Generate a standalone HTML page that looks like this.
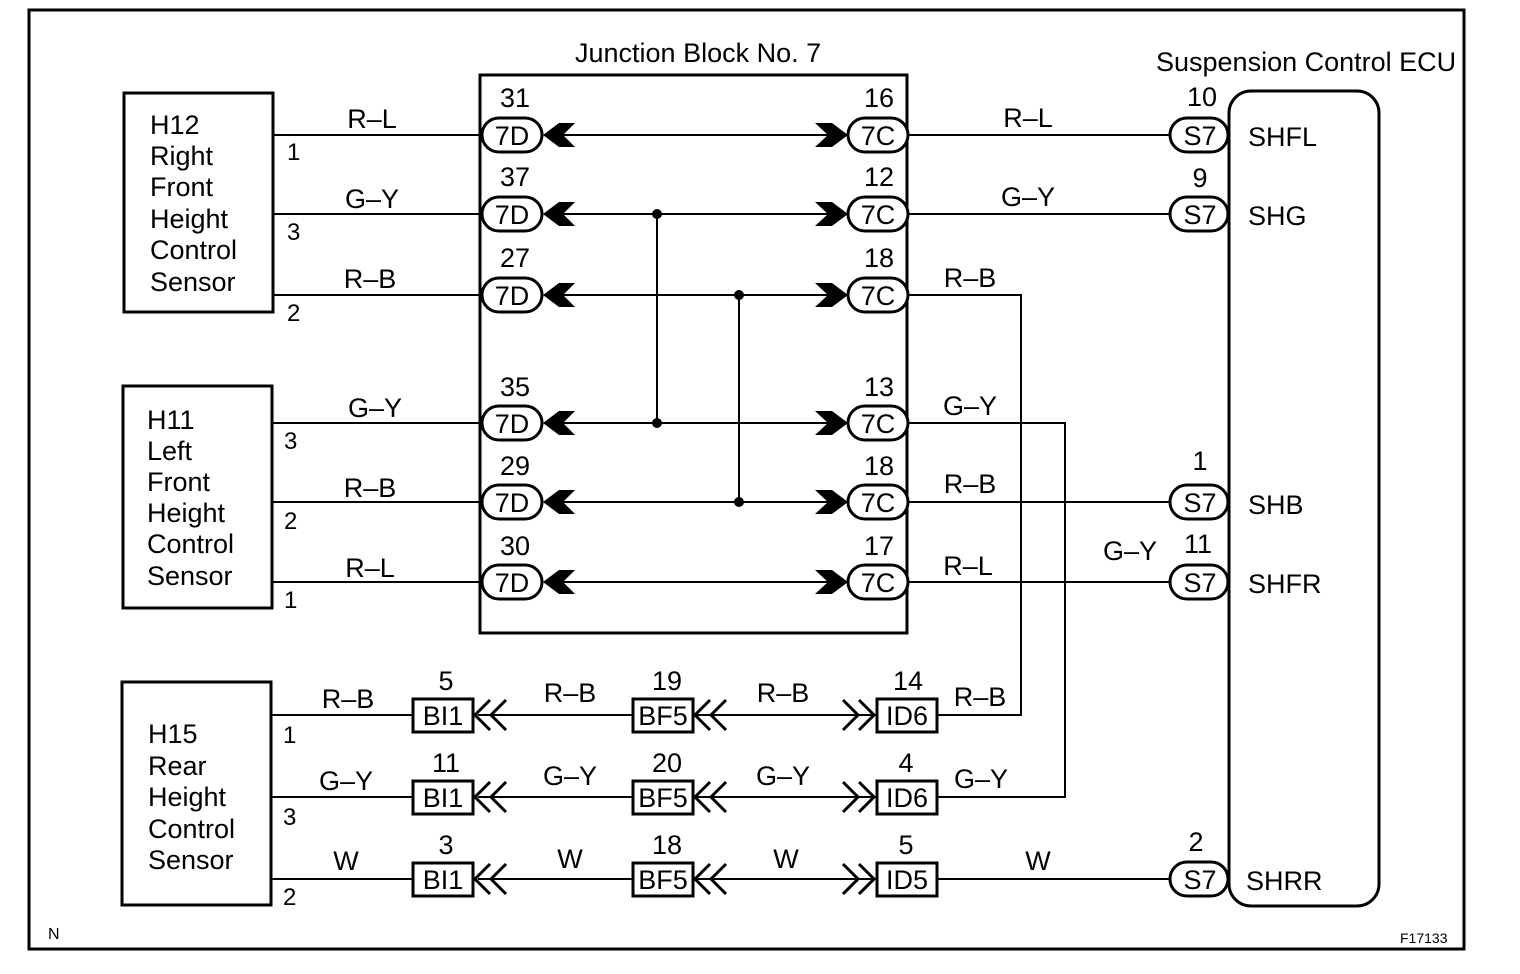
<!DOCTYPE html>
<html><head><meta charset="utf-8"><style>
html,body{margin:0;padding:0;background:#fff;}
svg{display:block;}
text{font-family:"Liberation Sans",Arial,sans-serif;fill:#000;}
</style></head><body>
<svg width="1520" height="974" viewBox="0 0 1520 974" xmlns="http://www.w3.org/2000/svg">
<g fill="none" stroke="#000">
<rect x="29" y="10" width="1435" height="939" stroke-width="3"/>
<rect x="124" y="93" width="149" height="219" stroke-width="3"/>
<rect x="123" y="386" width="149" height="222" stroke-width="3"/>
<rect x="122" y="682" width="149" height="223" stroke-width="3"/>
<rect x="480" y="75" width="427" height="558" stroke-width="3"/>
<rect x="1229" y="91" width="150" height="815" rx="22" stroke-width="3"/>
<g stroke-width="2">
<line x1="273" y1="135" x2="481" y2="135"/>
<line x1="273" y1="214" x2="481" y2="214"/>
<line x1="273" y1="295" x2="481" y2="295"/>
<line x1="272" y1="423" x2="481" y2="423"/>
<line x1="272" y1="502" x2="481" y2="502"/>
<line x1="272" y1="582" x2="481" y2="582"/>
<line x1="560" y1="135" x2="832" y2="135"/>
<line x1="560" y1="214" x2="832" y2="214"/>
<line x1="560" y1="295" x2="832" y2="295"/>
<line x1="560" y1="423" x2="832" y2="423"/>
<line x1="560" y1="502" x2="832" y2="502"/>
<line x1="560" y1="582" x2="832" y2="582"/>
<line x1="657" y1="214" x2="657" y2="423"/>
<line x1="739" y1="295" x2="739" y2="502"/>
<line x1="908" y1="135" x2="1170" y2="135"/>
<line x1="908" y1="214" x2="1170" y2="214"/>
<polyline points="908,295 1021,295 1021,715 938,715"/>
<polyline points="908,423 1065,423 1065,797 938,797"/>
<line x1="908" y1="502" x2="1170" y2="502"/>
<line x1="908" y1="582" x2="1170" y2="582"/>
<line x1="938" y1="879" x2="1170" y2="879"/>
<line x1="271" y1="715" x2="413" y2="715"/>
<line x1="271" y1="797" x2="413" y2="797"/>
<line x1="271" y1="879" x2="413" y2="879"/>
<line x1="478" y1="715" x2="876" y2="715"/>
<line x1="478" y1="797" x2="876" y2="797"/>
<line x1="478" y1="879" x2="876" y2="879"/>
</g>
<g stroke-width="3" fill="#fff">
<rect x="482" y="118" width="60" height="34" rx="17"/>
<rect x="482" y="197" width="60" height="34" rx="17"/>
<rect x="482" y="278" width="60" height="34" rx="17"/>
<rect x="482" y="406" width="60" height="34" rx="17"/>
<rect x="482" y="485" width="60" height="34" rx="17"/>
<rect x="482" y="565" width="60" height="34" rx="17"/>
<rect x="848" y="118" width="60" height="34" rx="17"/>
<rect x="848" y="197" width="60" height="34" rx="17"/>
<rect x="848" y="278" width="60" height="34" rx="17"/>
<rect x="848" y="406" width="60" height="34" rx="17"/>
<rect x="848" y="485" width="60" height="34" rx="17"/>
<rect x="848" y="565" width="60" height="34" rx="17"/>
<rect x="1170" y="118" width="58" height="34" rx="17"/>
<rect x="1170" y="197" width="58" height="34" rx="17"/>
<rect x="1170" y="485" width="58" height="34" rx="17"/>
<rect x="1170" y="565" width="58" height="34" rx="17"/>
<rect x="1170" y="862" width="58" height="34" rx="17"/>
<rect x="413" y="699" width="60" height="33"/>
<rect x="413" y="781" width="60" height="33"/>
<rect x="413" y="863" width="60" height="33"/>
<rect x="633" y="699" width="60" height="33"/>
<rect x="633" y="781" width="60" height="33"/>
<rect x="633" y="863" width="60" height="33"/>
<rect x="877" y="699" width="60" height="33"/>
<rect x="877" y="781" width="60" height="33"/>
<rect x="877" y="863" width="60" height="33"/>
</g>
<g stroke-width="3">
<path d="M490,700 L475,715 L490,730 M506,700 L491,715 L506,730"/>
<path d="M490,782 L475,797 L490,812 M506,782 L491,797 L506,812"/>
<path d="M490,864 L475,879 L490,894 M506,864 L491,879 L506,894"/>
<path d="M710,700 L695,715 L710,730 M726,700 L711,715 L726,730"/>
<path d="M710,782 L695,797 L710,812 M726,782 L711,797 L726,812"/>
<path d="M710,864 L695,879 L710,894 M726,864 L711,879 L726,894"/>
<path d="M859,700 L874,715 L859,730 M843,700 L858,715 L843,730"/>
<path d="M859,782 L874,797 L859,812 M843,782 L858,797 L843,812"/>
<path d="M859,864 L874,879 L859,894 M843,864 L858,879 L843,894"/>
</g>
</g>
<g fill="#000">
<polygon points="543,135 559,123 575,123 563,135 575,147 559,147"/>
<polygon points="543,214 559,202 575,202 563,214 575,226 559,226"/>
<polygon points="543,295 559,283 575,283 563,295 575,307 559,307"/>
<polygon points="543,423 559,411 575,411 563,423 575,435 559,435"/>
<polygon points="543,502 559,490 575,490 563,502 575,514 559,514"/>
<polygon points="543,582 559,570 575,570 563,582 575,594 559,594"/>
<polygon points="848,135 832,123 815,123 828,135 815,147 832,147"/>
<polygon points="848,214 832,202 815,202 828,214 815,226 832,226"/>
<polygon points="848,295 832,283 815,283 828,295 815,307 832,307"/>
<polygon points="848,423 832,411 815,411 828,423 815,435 832,435"/>
<polygon points="848,502 832,490 815,490 828,502 815,514 832,514"/>
<polygon points="848,582 832,570 815,570 828,582 815,594 832,594"/>
<circle cx="657" cy="214" r="5"/><circle cx="657" cy="423" r="5"/>
<circle cx="739" cy="295" r="5"/><circle cx="739" cy="502" r="5"/>
</g>
<g font-size="27">
<text x="575" y="62">Junction Block No. 7</text>
<text x="1156" y="71">Suspension Control ECU</text>
<text x="150" y="134">H12</text><text x="150" y="165">Right</text><text x="150" y="196">Front</text><text x="150" y="228">Height</text><text x="150" y="259">Control</text><text x="150" y="291">Sensor</text>
<text x="147" y="429">H11</text><text x="147" y="460">Left</text><text x="147" y="491">Front</text><text x="147" y="522">Height</text><text x="147" y="553">Control</text><text x="147" y="585">Sensor</text>
<text x="148" y="743">H15</text><text x="148" y="775">Rear</text><text x="148" y="806">Height</text><text x="148" y="838">Control</text><text x="148" y="869">Sensor</text>
<g text-anchor="middle">
<text x="372" y="128">R–L</text><text x="372" y="208">G–Y</text><text x="370" y="288">R–B</text>
<text x="375" y="417">G–Y</text><text x="370" y="497">R–B</text><text x="370" y="577">R–L</text>
<text x="348" y="708">R–B</text><text x="346" y="790">G–Y</text><text x="346" y="870">W</text>
<text x="570" y="702">R–B</text><text x="570" y="785">G–Y</text><text x="570" y="868">W</text>
<text x="783" y="702">R–B</text><text x="783" y="785">G–Y</text><text x="786" y="868">W</text>
<text x="980" y="706">R–B</text><text x="981" y="788">G–Y</text><text x="1038" y="870">W</text>
<text x="1028" y="127">R–L</text><text x="1028" y="206">G–Y</text>
<text x="970" y="287">R–B</text><text x="970" y="415">G–Y</text><text x="970" y="493">R–B</text><text x="968" y="575">R–L</text>
<text x="1130" y="560">G–Y</text>
<text x="515" y="107">31</text><text x="515" y="186">37</text><text x="515" y="267">27</text><text x="515" y="396">35</text><text x="515" y="475">29</text><text x="515" y="555">30</text>
<text x="879" y="107">16</text><text x="879" y="186">12</text><text x="879" y="267">18</text><text x="879" y="396">13</text><text x="879" y="475">18</text><text x="879" y="555">17</text>
<text x="1202" y="106">10</text><text x="1200" y="187">9</text><text x="1200" y="470">1</text><text x="1198" y="553">11</text><text x="1196" y="851">2</text>
<text x="446" y="690">5</text><text x="446" y="772">11</text><text x="446" y="854">3</text>
<text x="667" y="690">19</text><text x="667" y="772">20</text><text x="667" y="854">18</text>
<text x="908" y="690">14</text><text x="906" y="772">4</text><text x="906" y="854">5</text>
<text x="512" y="145">7D</text><text x="512" y="224">7D</text><text x="512" y="305">7D</text><text x="512" y="433">7D</text><text x="512" y="512">7D</text><text x="512" y="592">7D</text>
<text x="878" y="145">7C</text><text x="878" y="224">7C</text><text x="878" y="305">7C</text><text x="878" y="433">7C</text><text x="878" y="512">7C</text><text x="878" y="592">7C</text>
<text x="1200" y="145">S7</text><text x="1200" y="224">S7</text><text x="1200" y="512">S7</text><text x="1200" y="592">S7</text><text x="1200" y="889">S7</text>
<text x="443" y="725">BI1</text><text x="443" y="807">BI1</text><text x="443" y="889">BI1</text>
<text x="663" y="725">BF5</text><text x="663" y="807">BF5</text><text x="663" y="889">BF5</text>
<text x="907" y="725">ID6</text><text x="907" y="807">ID6</text><text x="907" y="889">ID5</text>
</g>
<text x="1248" y="146">SHFL</text><text x="1248" y="225">SHG</text><text x="1248" y="514">SHB</text><text x="1248" y="593">SHFR</text><text x="1246" y="890">SHRR</text>
<g font-size="24">
<text x="287" y="160">1</text><text x="287" y="240">3</text><text x="287" y="321">2</text>
<text x="284" y="449">3</text><text x="284" y="529">2</text><text x="284" y="608">1</text>
<text x="283" y="743">1</text><text x="283" y="825">3</text><text x="283" y="905">2</text>
</g>
</g>
<text x="48" y="939" font-size="16">N</text>
<text x="1400" y="943" font-size="14">F17133</text>
</svg>
</body></html>
